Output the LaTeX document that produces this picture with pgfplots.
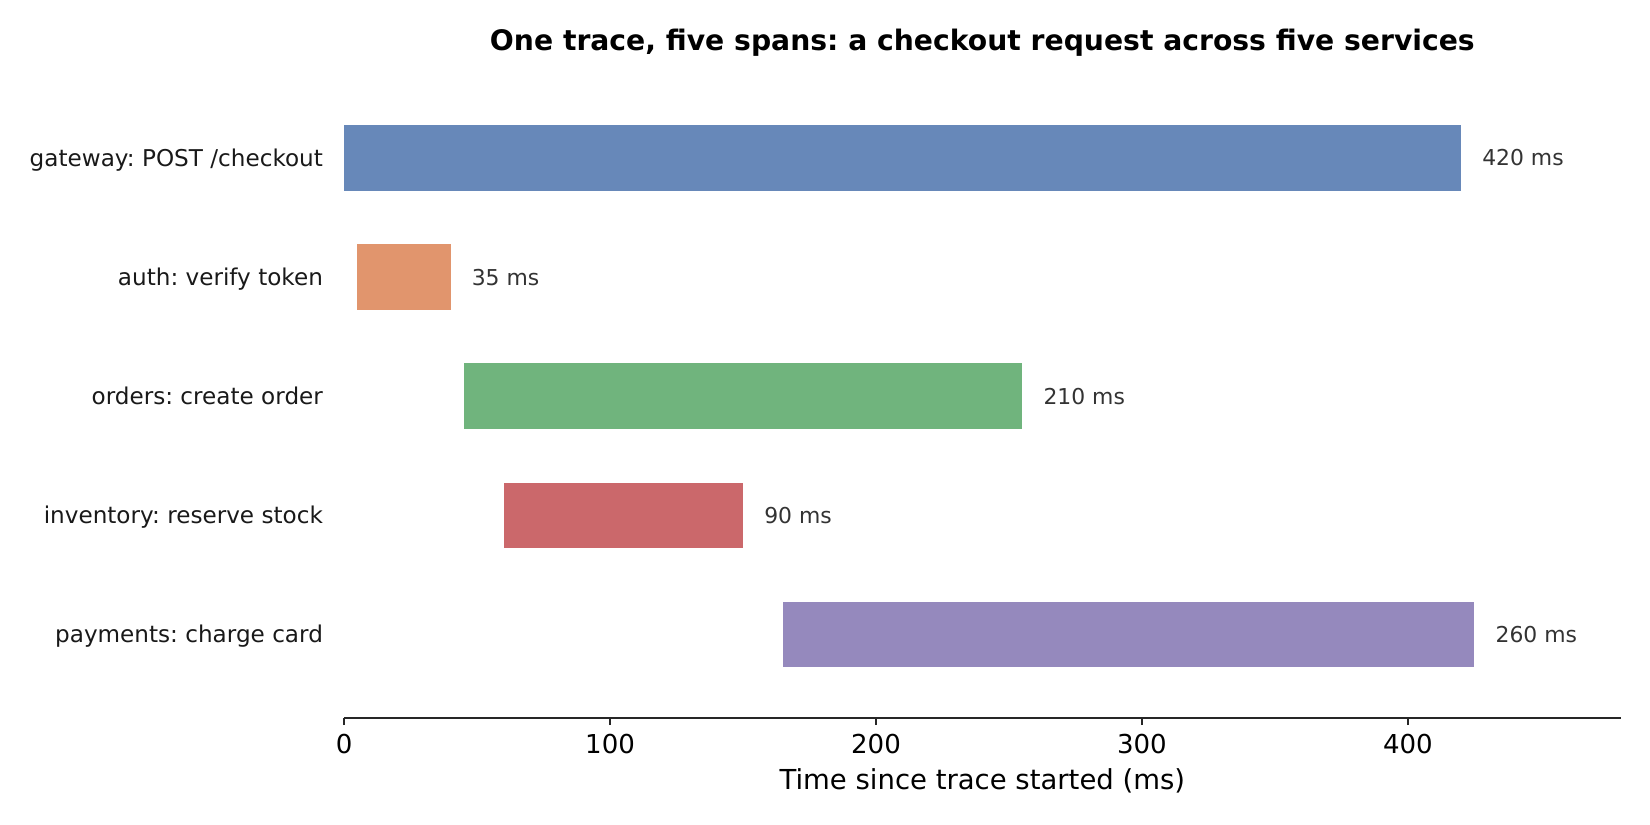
\documentclass[border=0pt]{standalone}
\usepackage{pgfplots}
\pgfplotsset{compat=1.18}
\usepackage{fontspec}
\setmainfont{DejaVu Sans}
\frenchspacing

\definecolor{cgate}{HTML}{6788B9}
\definecolor{cauth}{HTML}{E1956D}
\definecolor{corders}{HTML}{70B47D}
\definecolor{cinv}{HTML}{CB686B}
\definecolor{cpay}{HTML}{9589BD}
\definecolor{labgray}{HTML}{333333}

\pgfplotsset{span/.style={xbar stacked, bar width=0.55, draw=none}}

\begin{document}
\begin{tikzpicture}
\path[use as bounding box] (0,0) rectangle (792pt,396pt);
\begin{axis}[
    at={(165.2pt,51.4pt)}, anchor=south west,
    scale only axis, width=612.7pt, height=308.8pt,
    xmin=0, xmax=480, ymin=-0.7, ymax=4.7, y dir=reverse,
    axis x line*=bottom, axis y line*=left,
    y axis line style={draw=none},
    x axis line style={line width=0.8pt, black!85, -},
    xtick={0,100,200,300,400},
    tick align=outside,
    xtick style={line width=0.8pt, black!85},
    major tick length=3.5pt,
    ytick={0,1,2,3,4},
    ytick style={draw=none},
    yticklabels={gateway: POST /checkout, auth: verify token, orders: create order, inventory: reserve stock, payments: charge card},
    yticklabel style={font=\fontsize{11.1}{13}\selectfont, text=black!90, anchor=base east, inner sep=0pt, xshift=-6.5pt, yshift=-4pt},
    xticklabel style={font=\fontsize{12.5}{14}\selectfont, anchor=base, inner sep=0pt, yshift=-13.8pt},
    /pgf/number format/assume math mode=true,
    xlabel={Time since trace started (ms)},
    xlabel style={font=\fontsize{13.2}{15}\selectfont, at={(0.5,0)}, anchor=base, inner sep=0pt, yshift=-34.2pt},
    title={One trace, five spans: a checkout request across five services},
    title style={font=\bfseries\fontsize{13.55}{15}\selectfont, at={(0.5,1)}, anchor=base, inner sep=0pt, yshift=5.8pt},
    clip=false,
]
% span start offsets (invisible)
\addplot[span, fill=none] coordinates {(0,0) (5,1) (45,2) (60,3) (165,4)};
% span durations, one colour per span
\addplot[span, fill=cgate]   coordinates {(420,0) (0,1) (0,2) (0,3) (0,4)};
\addplot[span, fill=cauth]   coordinates {(0,0) (35,1) (0,2) (0,3) (0,4)};
\addplot[span, fill=corders] coordinates {(0,0) (0,1) (210,2) (0,3) (0,4)};
\addplot[span, fill=cinv]    coordinates {(0,0) (0,1) (0,2) (90,3) (0,4)};
\addplot[span, fill=cpay]    coordinates {(0,0) (0,1) (0,2) (0,3) (260,4)};
% duration labels at span ends
\addplot[sharp plot, draw=none, mark=none,
    nodes near coords, point meta=explicit symbolic,
    every node near coord/.append style={font=\fontsize{10.5}{12}\selectfont, text=labgray, anchor=base west, inner sep=0pt, xshift=10pt, yshift=-3.8pt}]
    coordinates {(420,0) [420 ms] (40,1) [35 ms] (255,2) [210 ms] (150,3) [90 ms] (425,4) [260 ms]};
\end{axis}
\end{tikzpicture}
\end{document}
